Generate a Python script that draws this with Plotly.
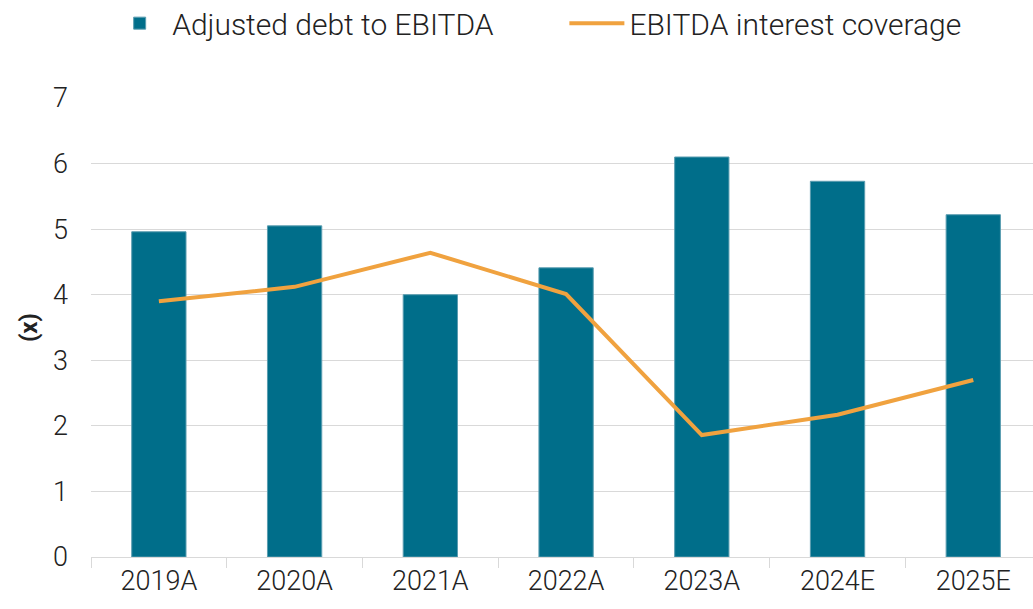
import plotly.graph_objects as go

categories = ["2019A", "2020A", "2021A", "2022A", "2023A", "2024E", "2025E"]
debt_to_ebitda = [4.96, 5.05, 4.0, 4.41, 6.10, 5.73, 5.22]
interest_coverage = [3.90, 4.12, 4.64, 4.01, 1.86, 2.17, 2.70]

FONT = "Roboto, sans-serif"

fig = go.Figure()
fig.add_trace(go.Bar(
    x=categories, y=debt_to_ebitda, name="Adjusted debt to EBITDA" + "\u00a0" * 9,
    marker=dict(color="#006E8A", line=dict(color="#5a9db0", width=1)),
    width=0.4,
))
fig.add_trace(go.Scatter(
    x=categories, y=interest_coverage, name="EBITDA interest coverage",
    mode="lines", line=dict(color="#F0A23F", width=4),
))

fig.update_layout(
    width=1033, height=609,
    margin=dict(l=91, r=0, t=98, b=52, autoexpand=False),
    paper_bgcolor="white", plot_bgcolor="white",
    font=dict(family=FONT, size=26, color="#222222", weight=300),
    showlegend=True,
    legend=dict(orientation="h", xref="container", x=0.52, xanchor="center",
                yref="container", y=0.962, yanchor="middle",
                font=dict(size=30, family=FONT, weight=300), itemwidth=55, traceorder="normal",
                tracegroupgap=0),
    bargap=0.6,
)
fig.update_xaxes(
    range=[-0.5, 6.44], showgrid=False,
    showline=True, linecolor="#d9d9d9", linewidth=1,
    ticks="outside", tickson="boundaries", ticklen=10, tickcolor="#d9d9d9",
    tickfont=dict(size=27, family=FONT, weight=300),
)
fig.update_yaxes(
    range=[0, 7], dtick=1, showgrid=True, gridcolor="#d9d9d9", gridwidth=1,
    zeroline=False, showline=False, ticks="", ticklabelstandoff=22,
    tickfont=dict(size=27, family=FONT, weight=300),
    title=dict(text="<b>(x)</b>", standoff=8, font=dict(size=24, family=FONT, weight=700)),
)

fig.write_html("out.html", config={"displayModeBar": False},
               post_script="document.body.style.margin='0px';")
